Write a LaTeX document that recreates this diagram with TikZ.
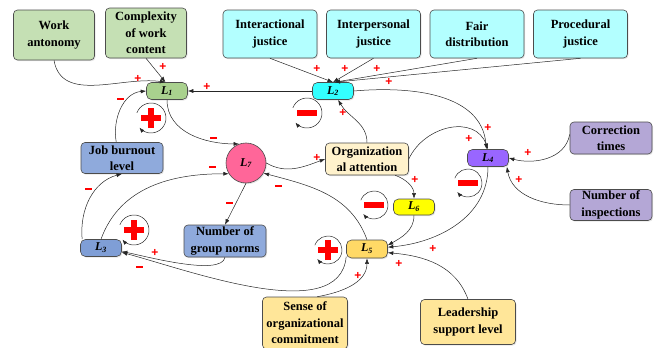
\documentclass[tikz,border=0pt]{standalone}
\usepackage{fontspec}
\setmainfont{Liberation Serif}
\setsansfont{Liberation Sans}
\usetikzlibrary{arrows.meta,shadows,positioning}

\definecolor{boxgreen}{HTML}{C5E0B4}
\definecolor{loopgreen}{HTML}{A9D18E}
\definecolor{boxcyan}{HTML}{B3FFFF}
\definecolor{loopcyan}{HTML}{33FFFF}
\definecolor{looppink}{HTML}{FF6699}
\definecolor{boxcream}{HTML}{FFF2CC}
\definecolor{boxblue}{HTML}{8FAADC}
\definecolor{loopblue}{HTML}{7F9ED6}
\definecolor{loopviolet}{HTML}{9966FF}
\definecolor{boxviolet}{HTML}{B4A7D6}
\definecolor{loopyellow}{HTML}{FFFF00}
\definecolor{loopgold}{HTML}{FFD966}
\definecolor{boxgold}{HTML}{FFE699}
\definecolor{signred}{HTML}{FF0000}

\begin{document}
\begin{tikzpicture}[x=1pt, y=-1pt,
    node distance=103.5pt,
    factor/.style={rectangle, rounded corners=4pt, draw=black!70, line width=0.6pt, align=center, inner sep=1pt, font=\fontsize{12.5}{16.5}\selectfont\bfseries, drop shadow={shadow xshift=1pt, shadow yshift=-1.2pt, opacity=0.2}},
    loopnode/.style={rectangle, rounded corners=5pt, draw=black!70, line width=0.6pt, minimum width=41pt, minimum height=17pt, inner sep=0pt, font=\fontsize{12}{12}\selectfont\bfseries\itshape, drop shadow={shadow xshift=1pt, shadow yshift=-1.2pt, opacity=0.2}},
    link/.style={-{Latex[length=5.5pt,width=4pt]}, line width=0.5pt, black!85},
    loopback/.style={-{Latex[length=5pt,width=4pt]}, line width=0.5pt, black!85},
    plus/.style={text=signred, font=\sffamily\bfseries\fontsize{12}{12}\selectfont, inner sep=0pt},
    minus/.style={fill=signred, minimum width=7pt, minimum height=2.6pt, inner sep=0pt},
    bigsign/.style={draw=signred, line width=5.5pt}
]
    \useasboundingbox (0,0) rectangle (657,348);

    \node[factor, fill=boxgreen, minimum width=81pt, minimum height=50pt] (wa) at (54,35) {Work\\antonomy};
    \node[factor, fill=boxgreen, minimum width=81pt, minimum height=50pt] (cwc) at (146,33) {Complexity\\of work\\content};
    \node[factor, fill=boxcyan, minimum width=94pt, minimum height=48pt] (ij) at (270,34) {Interactional\\justice};
    \node[factor, fill=boxcyan, minimum width=94pt, minimum height=48pt, right of=ij] (ipj) {Interpersonal\\justice};
    \node[factor, fill=boxcyan, minimum width=94pt, minimum height=48pt, right of=ipj] (fd) {Fair\\distribution};
    \node[factor, fill=boxcyan, minimum width=94pt, minimum height=48pt, right of=fd] (pj) {Procedural\\justice};

    \node[loopnode, fill=loopgreen] (l1) at (167,91) {L\textsubscript{1}};
    \node[loopnode, fill=loopcyan] (l2) at (333,91) {L\textsubscript{2}};
    \node[loopnode, circle, fill=looppink, minimum size=40pt] (l7) at (246,163) {L\textsubscript{7}};
    \node[factor, fill=boxcream, minimum width=83pt, minimum height=32pt] (oa) at (367,159) {Organization\\al attention};
    \node[factor, fill=boxblue, minimum width=82pt, minimum height=31pt] (jb) at (122,158) {Job burnout\\level};
    \node[loopnode, fill=loopviolet] (l4) at (488,158) {L\textsubscript{4}};
    \node[factor, fill=boxviolet, minimum width=82pt, minimum height=32pt] (ct) at (611,138) {Correction\\times};
    \node[factor, fill=boxviolet, minimum width=82pt, minimum height=31pt] (ni) at (611,205) {Number of\\inspections};
    \node[loopnode, fill=loopyellow, minimum height=16pt] (l6) at (414,207) {L\textsubscript{6}};
    \node[loopnode, fill=loopblue] (l3) at (101,248) {L\textsubscript{3}};
    \node[factor, fill=boxblue, minimum width=82pt, minimum height=32pt] (gn) at (225,241) {Number of\\group norms};
    \node[loopnode, fill=loopgold, minimum height=18pt] (l5) at (367,249) {L\textsubscript{5}};
    \node[factor, fill=boxgold, minimum width=85pt, minimum height=52pt] (soc) at (305,323) {Sense of\\organizational\\commitment};
    \node[factor, fill=boxgold, minimum width=95pt, minimum height=45pt] (lsl) at (468,322) {Leadership\\support level};

    \draw[link] (wa.south) to[out=-80,in=172] (l1.100);
    \draw[link] (cwc.south) -- (l1.100);
    \draw[link] (l2) -- (l1);
    \draw[link] (ij.south) -- (l2.north);
    \draw[link] (ipj.south) -- (l2.north);
    \draw[link] (fd.south) -- (l2.80);
    \draw[link] (pj.south) -- (l2.80);
    \draw[link] (l2.east) to[out=5,in=95] (l4.100);
    \draw[link] (oa.east) to[out=65,in=110,looseness=1.2] (l4.north);
    \draw[link] (oa.north) to[out=90,in=-60] (l2.-60);
    \draw[link] (l1.south) to[out=-90,in=180] (l7.110);
    \draw[link] (l7.east) to[out=-30,in=200] (oa.west);
    \draw[link] (l5.north) to[out=110,in=-15] (l7.-30);
    \draw[link] (l3.north) to[out=70,in=180] (l7.212);
    \draw[link] (l3.155) to[out=95,in=195] (jb.south);
    \draw[link] (jb.110) to[out=100,in=185] (l1.west);
    \draw[link] (l7.south) -- (gn.north);
    \draw[link] (gn.south) to[out=-100,in=-10,looseness=0.5] (l3.-10);
    \draw[link] (l5.200) to[out=-95,in=-15,looseness=0.8] (l3.-12);
    \draw[link] (soc.65) to[out=10,in=-90] (l5.south);
    \draw[link] (oa.-30) to[out=-20,in=90] (l6.north);
    \draw[link] (l6.south) to[out=-90,in=30] (l5.10);
    \draw[link] (l4.south) to[out=-90,in=5] (l5.5);
    \draw[link] (lsl.north) to[out=110,in=-5] (l5.-10);
    \draw[link] (ct.175) to[out=-100,in=-15] (l4.east);
    \draw[link] (ni.west) to[out=180,in=-80] (l4.-25);

    \coordinate (r1) at (151,118);
    \coordinate (r2) at (307,113);
    \coordinate (r3) at (134,230);
    \coordinate (r4) at (468,183);
    \coordinate (r5) at (328,250);
    \coordinate (r6) at (374,205);
    \foreach \r/\rad in {r1/15, r2/15, r3/15, r4/14, r5/14, r6/14}
        \draw[loopback] (\r) ++(160:\rad pt) arc[start angle=160, end angle=-140, radius=\rad pt];

    \foreach \r in {r1, r3, r5}
        \draw[bigsign] (\r) +(-10pt,0pt) -- +(10pt,0pt) (\r) +(0pt,-10pt) -- +(0pt,10pt);
    \foreach \r in {r2, r4, r6}
        \draw[bigsign] (\r) +(-10pt,0pt) -- +(10pt,0pt);

    \foreach \x/\y [count=\i] in {138/79, 163/67, 207/87, 317/69, 345/69, 377/69, 389/82, 343/113, 488/128, 469/139, 317/158, 155/253, 415/180, 433/249, 399/264, 358/276, 528/153, 519/180}
        \node[plus] (plus\i) at (\x,\y) {+};
    \foreach \x/\y [count=\i] in {120/99, 213/138, 212/167, 88/189, 229/203, 278/186, 139/267}
        \node[minus] (minus\i) at (\x,\y) {};
\end{tikzpicture}
\end{document}
